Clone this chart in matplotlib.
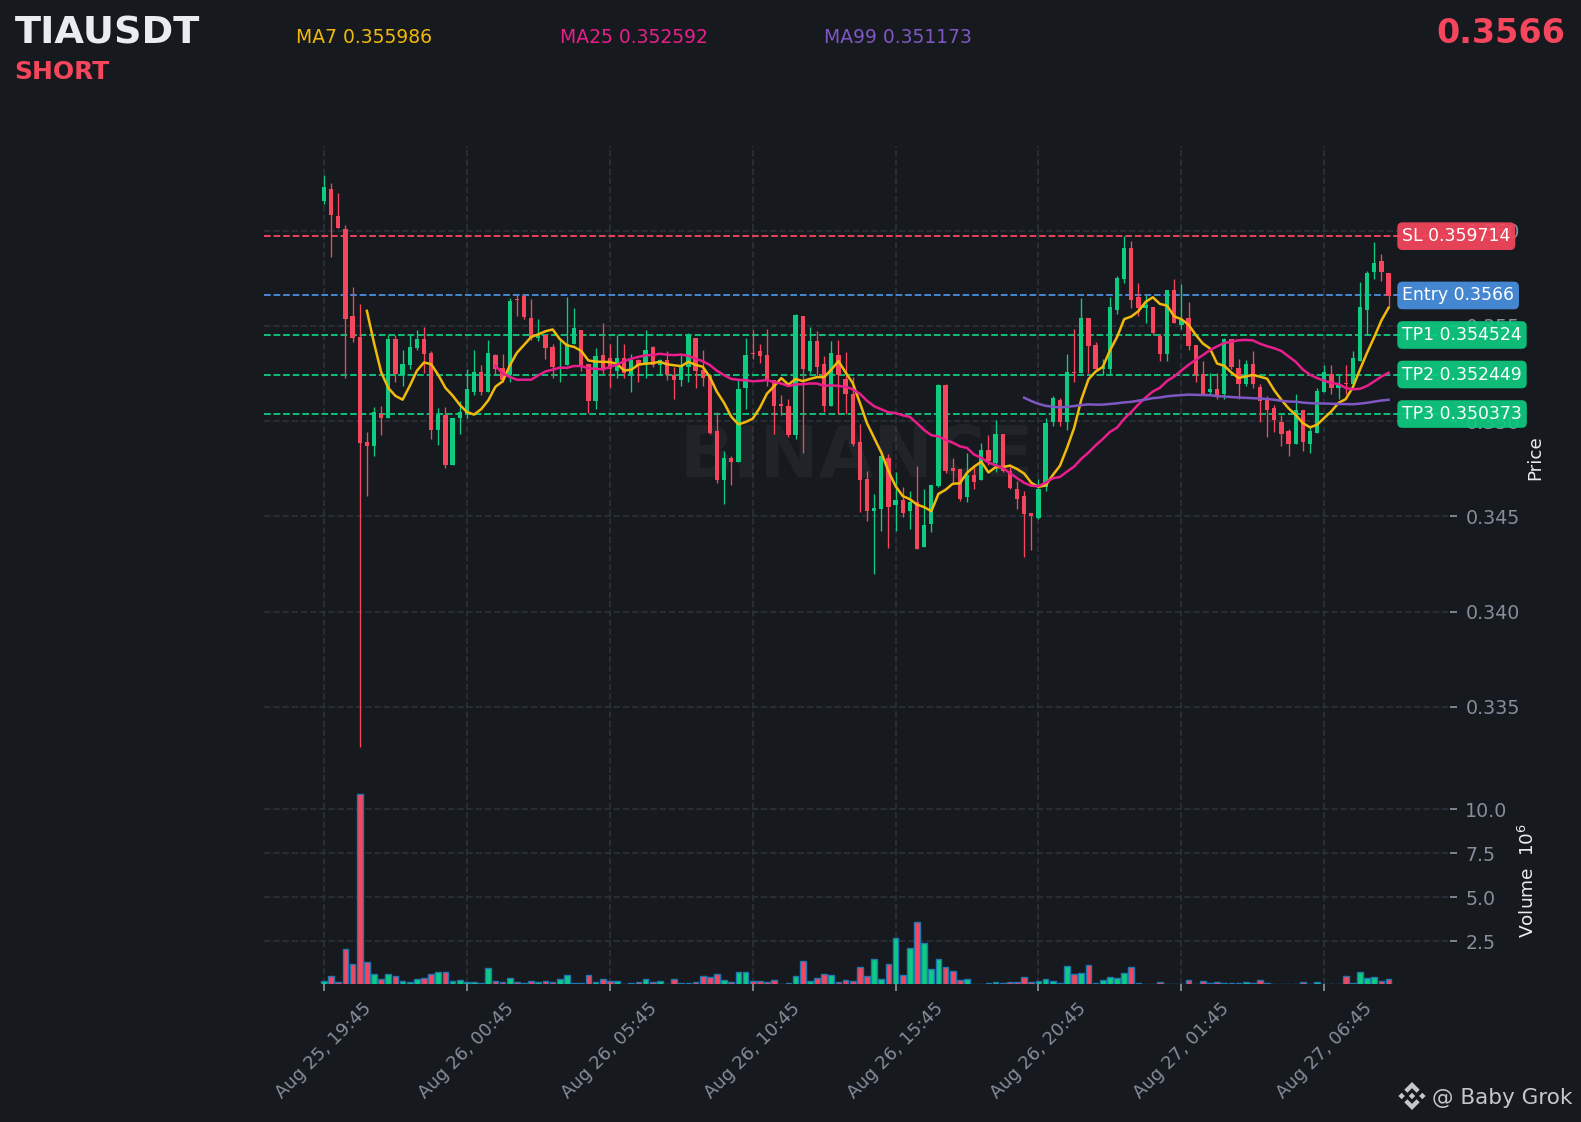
import matplotlib
matplotlib.use('Agg')
import matplotlib.pyplot as plt
from matplotlib.patches import Polygon
import numpy as np
import pandas as pd

BG = '#161A1E'
GREEN = '#0ECB81'
RED = '#F6465D'
GRID = '#2B3139'
TICK = '#848E9C'
LIGHT = '#EAECEF'
W, H = 1581, 1122

opens = [
    .36158, .36218, .36077, .36009, .35551, .35440, .34888, .34872, .35035, .35016,
    .35430, .35240, .35293, .35382, .35430, .35356, .34951, .35030, .34772, .35014,
    .35035, .35151, .35256, .35151, .35346, .35277, .35240, .35640, .35656, .35540,
    .35435, .35451, .35388, .35272, .35293, .35404, .35477, .35298, .35105, .35346,
    .35330, .35263, .35330, .35240, .35319, .35293, .35388, .35293, .35319, .35240,
    .35214, .35284, .35439, .35267, .35240, .34946, .34693, .34809, .34784, .35174,
    .35356, .35367, .35346, .35214, .35088, .35077, .34925, .35551, .35261, .35419,
    .35298, .35082, .35346, .35219, .35140, .34888, .34698, .34530, .34540, .34809,
    .34561, .34588, .34530, .34577, .34340, .34461, .34661, .35188, .34756, .34746,
    .34604, .34719, .34693, .34846, .34782, .34930, .34740, .34646, .34609, .34519,
    .34493, .34653, .34993, .35109, .34993, .35256, .35251, .35540, .35398, .35272,
    .35272, .35582, .35746, .35909, .35651, .35593, .35598, .35446, .35351, .35688,
    .35504, .35540, .35398, .35246, .35151, .35167, .35140, .35430, .35277, .35193,
    .35298, .35177, .35119, .35067, .34998, .34946, .34882, .35056, .34882, .34940,
    .35151, .35246, .35172, .35198, .35193, .35314, .35582, .35782, .35840, .35777,
]
closes = [
    .36228, .36084, .36014, .35537, .35435, .34884, .34872, .35046, .35014, .35430,
    .35246, .35298, .35388, .35430, .35351, .34951, .35030, .34772, .35019, .35046,
    .35167, .35256, .35151, .35356, .35272, .35214, .35630, .35635, .35546, .35440,
    .35456, .35382, .35282, .35277, .35404, .35488, .35293, .35105, .35340, .35272,
    .35272, .35330, .35251, .35319, .35293, .35375, .35293, .35319, .35240, .35214,
    .35288, .35451, .35263, .35226, .34940, .34693, .34809, .34784, .35167, .35346,
    .35351, .35340, .35214, .35082, .35082, .34925, .35556, .35272, .35419, .35282,
    .35082, .35356, .35240, .35140, .34882, .34693, .34530, .34546, .34819, .34551,
    .34588, .34519, .34577, .34330, .34456, .34667, .35188, .34740, .34740, .34593,
    .34719, .34682, .34846, .34793, .34935, .34740, .34651, .34593, .34514, .34504,
    .34646, .34988, .35119, .34993, .35256, .35251, .35540, .35393, .35272, .35288,
    .35598, .35751, .35909, .35635, .35593, .35609, .35461, .35351, .35688, .35514,
    .35530, .35393, .35240, .35140, .35167, .35135, .35430, .35282, .35193, .35298,
    .35193, .35104, .35061, .35004, .34930, .34882, .35056, .34893, .34946, .35156,
    .35256, .35172, .35193, .35193, .35330, .35598, .35777, .35830, .35782, .35656,
]
highs = [
    .36293, .36249, .36196, .36028, .35705, .35616, .34944, .35074, .35077, .35451,
    .35451, .35375, .35451, .35477, .35495, .35367, .35067, .35074, .35019, .35105,
    .35274, .35375, .35296, .35428, .35354, .35354, .35647, .35661, .35665, .35639,
    .35539, .35451, .35407, .35425, .35653, .35596, .35477, .35298, .35386, .35518,
    .35407, .35451, .35407, .35354, .35325, .35477, .35393, .35328, .35367, .35284,
    .35346, .35465, .35439, .35375, .35240, .35046, .34844, .34819, .35214, .35439,
    .35477, .35407, .35486, .35214, .35139, .35118, .35565, .35551, .35495, .35474,
    .35344, .35419, .35428, .35363, .35232, .34986, .34740, .34618, .34819, .34828,
    .34732, .34653, .34632, .34765, .34644, .34667, .35196, .35196, .34807, .34746,
    .34833, .34758, .34886, .34928, .35007, .34930, .34758, .34688, .34632, .34519,
    .34696, .35018, .35130, .35119, .35354, .35486, .35649, .35540, .35418, .35326,
    .35653, .35761, .35972, .35947, .35728, .35661, .35598, .35460, .35688, .35749,
    .35719, .35628, .35398, .35316, .35254, .35254, .35439, .35430, .35328, .35319,
    .35367, .35196, .35133, .35086, .35030, .34960, .35140, .35056, .34977, .35175,
    .35296, .35296, .35240, .35296, .35367, .35730, .35788, .35939, .35877, .35777,
]
lows = [
    .36139, .35860, .36014, .35228, .35414, .33288, .34607, .34818, .34926, .35016,
    .35205, .35184, .35272, .35372, .35254, .34905, .34874, .34754, .34772, .34932,
    .35018, .35135, .35135, .35151, .35246, .35207, .35207, .35553, .35537, .35425,
    .35419, .35325, .35228, .35205, .35293, .35404, .35263, .35042, .35063, .35246,
    .35175, .35228, .35228, .35153, .35205, .35228, .35284, .35240, .35214, .35116,
    .35182, .35205, .35175, .35184, .34930, .34675, .34565, .34665, .34784, .35063,
    .35328, .35305, .35184, .34933, .35030, .34916, .34907, .34833, .35253, .35235,
    .35046, .35082, .35039, .35039, .34867, .34521, .34474, .34196, .34421, .34333,
    .34421, .34495, .34432, .34330, .34340, .34416, .34653, .34726, .34679, .34582,
    .34575, .34642, .34693, .34767, .34732, .34732, .34644, .34540, .34284, .34323,
    .34486, .34632, .34977, .34975, .34954, .35205, .35251, .35253, .35267, .35240,
    .35240, .35561, .35726, .35595, .35551, .35516, .35451, .35316, .35316, .35514,
    .35486, .35374, .35205, .35140, .35140, .35114, .35114, .35272, .35114, .35184,
    .35174, .34993, .34916, .34942, .34872, .34816, .34882, .34842, .34832, .34940,
    .35151, .35140, .35114, .35144, .35193, .35314, .35451, .35746, .35737, .35600,
]
# volume in millions
volumes = [
    .25, .53, .15, 2.06, 1.17, 10.83, 1.33, .64, .32, .64,
    .53, .25, .19, .36, .42, .64, .76, .76, .25, .30,
    .19, .19, .13, .98, .25, .19, .42, .19, .13, .25,
    .19, .25, .19, .36, .59, .13, .13, .59, .19, .36,
    .25, .25, .08, .13, .19, .36, .19, .25, .08, .36,
    .13, .13, .19, .53, .47, .64, .30, .19, .76, .76,
    .25, .25, .19, .30, .08, .13, .53, 1.38, .25, .42,
    .64, .59, .19, .30, .25, 1.04, .53, 1.50, .36, 1.21,
    2.69, .59, 2.12, 3.60, 2.41, .93, 1.50, 1.04, .81, .30,
    .36, .08, .08, .13, .19, .13, .19, .19, .47, .19,
    .25, .36, .25, .13, 1.10, .64, .70, 1.16, .13, .30,
    .47, .42, .70, 1.04, .13, .08, .08, .19, .08, .08,
    .08, .30, .08, .25, .13, .19, .13, .13, .13, .19,
    .13, .30, .13, .08, .08, .08, .08, .19, .08, .19,
    .08, .08, .06, .53, .13, .76, .42, .47, .25, .36,
]

date_labels = ['Aug 25, 19:45', 'Aug 26, 00:45', 'Aug 26, 05:45', 'Aug 26, 10:45',
               'Aug 26, 15:45', 'Aug 26, 20:45', 'Aug 27, 01:45', 'Aug 27, 06:45']
price_ticks = [0.335, 0.340, 0.345, 0.350, 0.355, 0.360]
volume_ticks = [2.5, 5.0, 7.5, 10.0]

level_names = ['SL 0.359714', 'Entry 0.3566', 'TP1 0.354524', 'TP2 0.352449', 'TP3 0.350373']
level_values = [0.359714, 0.3566, 0.354524, 0.352449, 0.350373]
level_colors = [RED, '#4A90E2', GREEN, GREEN, GREEN]

ma_periods = [7, 25, 99]
ma_colors = ['#F0B90B', '#E91E8C', '#7E57C2']
ma_labels = ['MA7 0.355986', 'MA25 0.352592', 'MA99 0.351173']


def fx(px):
    return px / W


def fy(py):
    return 1 - py / H


fig = plt.figure(figsize=(W / 100, H / 100), dpi=100, facecolor=BG)
ax = fig.add_axes([fx(264), fy(773), fx(1450 - 264), (773 - 146) / H], facecolor=BG)
ax_vol = fig.add_axes([fx(264), fy(984), fx(1450 - 264), (984 - 773) / H], facecolor=BG)

x = np.arange(len(closes))
o, c, h, l = map(np.array, (opens, closes, highs, lows))
colors = [GREEN if cl >= op else RED for op, cl in zip(o, c)]

# candles
ax.vlines(x, l, h, colors=colors, linewidth=0.95, zorder=3)
ax.bar(x, np.maximum(np.abs(c - o), 0.00004), bottom=np.minimum(o, c), width=0.6,
       color=colors, linewidth=0, zorder=3.1)

for period, color in zip(ma_periods, ma_colors):
    ma = pd.Series(closes).rolling(period).mean()
    ax.plot(x, ma, color=color, linewidth=1.8, zorder=4)

for value, color in zip(level_values, level_colors):
    ax.axhline(value, color=color, linestyle='--', linewidth=1.3, zorder=2)

for name, value, color in zip(level_names, level_values, level_colors):
    ax.text(150.9, value, name, color='white', fontsize=12.4, va='center', ha='left', zorder=6,
            clip_on=False,
            bbox=dict(boxstyle='round,pad=0.28,rounding_size=0.3', facecolor=color, edgecolor='none', alpha=0.92))

ax.text(0.4994, 0.5025, 'BINANCE', transform=ax.transAxes, color='white', alpha=0.045, fontsize=51,
        fontweight='bold', ha='center', va='center', zorder=1)

ax_vol.bar(x, volumes, width=0.8, color=colors, edgecolor='#1F77B4', linewidth=1.0, zorder=3)

for a in (ax, ax_vol):
    a.set_xlim(-8.4, 157.6)
    a.set_xticks(x[::20])
    a.grid(True, color=GRID, linestyle='--', linewidth=1.25)
    a.set_axisbelow(True)
    a.yaxis.tick_right()
    a.tick_params(axis='y', colors=TICK, labelsize=13.7, length=5, width=1.3, pad=6)
    for spine in a.spines.values():
        spine.set_visible(False)

ax.set_ylim(0.33152, 0.36445)
ax.set_yticks(price_ticks)
ax.set_yticklabels([f'{t:.3f}' for t in price_ticks])
ax.tick_params(axis='x', bottom=False, labelbottom=False)

ax_vol.set_ylim(0.06, 12.05)
ax_vol.set_yticks(volume_ticks)
ax_vol.set_yticklabels([f'{t:.1f}' for t in volume_ticks])
ax_vol.set_xticklabels(date_labels, rotation=45, ha='center')
ax_vol.tick_params(axis='x', colors=TICK, labelsize=13.0, length=5, width=1.3, pad=6)

# header
fig.text(fx(15), fy(43.3), 'TIAUSDT', color=LIGHT, fontsize=27.5, fontweight='bold', va='baseline')
fig.text(fx(14.5), fy(79.3), 'SHORT', color=RED, fontsize=18, fontweight='bold', va='baseline')
for text, color, left in zip(ma_labels, ma_colors, [296, 559.5, 823.5]):
    fig.text(fx(left), fy(43.3), text, color=color, fontsize=13.5, va='baseline')
fig.text(fx(1565), fy(43.3), '0.3566', color=RED, fontsize=24, fontweight='bold', ha='right', va='baseline')

fig.text(fx(1535), fy(458), 'Price', color=LIGHT, fontsize=13.2, rotation=90, ha='center', va='center')
fig.text(fx(1528), fy(880), 'Volume  $10^{6}$', color=LIGHT, fontsize=13.3, rotation=90, ha='center', va='center')

# logo and credit
logo = fig.add_axes([fx(1398), fy(1110), 28 / W, 28 / H])
logo.set_xlim(-1, 1)
logo.set_ylim(-1, 1)
logo.axis('off')
chevron = np.array([[0, 1], [.55, .45], [.33, .23], [0, .56], [-.33, .23], [-.55, .45]])
logo_color = '#C4C8CE'
logo.add_patch(Polygon(chevron, color=logo_color, linewidth=0))
logo.add_patch(Polygon(chevron * [1, -1], color=logo_color, linewidth=0))
diamond = np.array([[0, .23], [.23, 0], [0, -.23], [-.23, 0]])
for shift in (-.74, 0, .74):
    logo.add_patch(Polygon(diamond + [shift, 0], color=logo_color, linewidth=0))
fig.text(fx(1431.5), fy(1104), '@ Baby Grok', color=logo_color, fontsize=15.5, va='baseline')

plt.savefig('out.png', dpi=100, facecolor=BG)
plt.close()
